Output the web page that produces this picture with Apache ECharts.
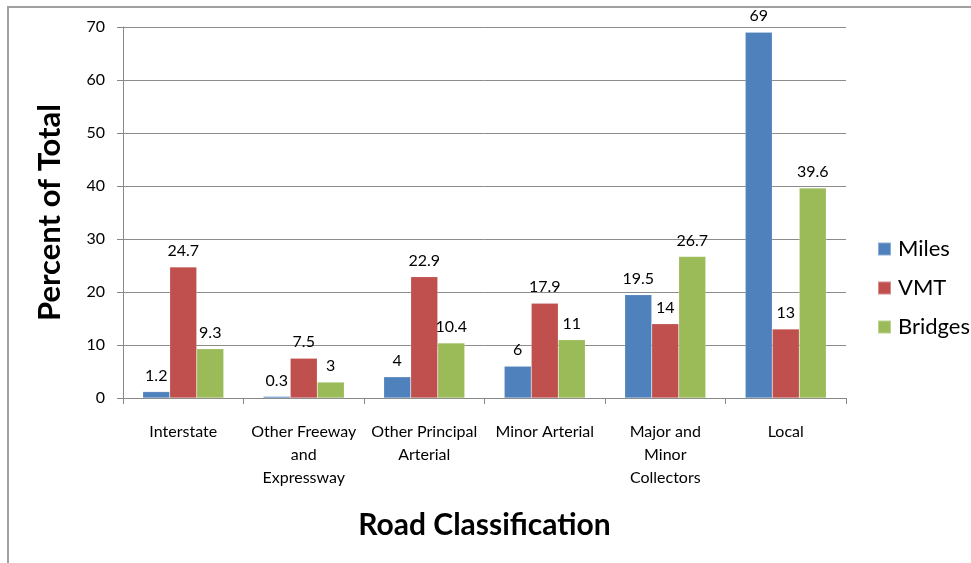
<!DOCTYPE html>
<html>
<head>
<meta charset="utf-8">
<script src="https://cdn.jsdelivr.net/npm/echarts@6/dist/echarts.min.js"></script>
<style>
  html, body { margin: 0; padding: 0; background: #fff; }
  #chart { width: 971px; height: 563px; }
</style>
</head>
<body>
<div id="chart"></div>
<script>
// Share of the road network by functional class
const categories = [
  'Interstate',
  'Other Freeway\nand\nExpressway',
  'Other Principal\nArterial',
  'Minor Arterial',
  'Major and\nMinor\nCollectors',
  'Local'
];
const miles = [1.2, 0.3, 4, 6, 19.5, 69];
const vmt = [24.7, 7.5, 22.9, 17.9, 14, 13];
const bridges = [9.3, 3, 10.4, 11, 26.7, 39.6];
const seriesNames = ['Miles', 'VMT', 'Bridges'];
const seriesColors = ['#4F81BD', '#C0504D', '#9BBB59'];

const FONT = 'Lato, "Open Sans", sans-serif';

const chart = echarts.init(document.getElementById('chart'), null, { renderer: 'canvas' });

function barSeries(name, data, color) {
  return {
    name: name,
    type: 'bar',
    data: data,
    barWidth: 27,
    barGap: '0%',
    itemStyle: { color: color, borderColor: 'rgba(255,255,255,0.35)', borderWidth: 0.5 },
    label: {
      show: true,
      position: 'top',
      distance: 8,
      color: '#000',
      fontFamily: FONT,
      fontSize: 16
    },
    emphasis: { disabled: true },
    animation: false
  };
}

chart.setOption({
  animation: false,
  backgroundColor: '#fff',
  textStyle: { fontFamily: FONT },
  grid: { left: 123, right: 125, top: 27, bottom: 165, containLabel: false },
  legend: {
    orient: 'vertical',
    left: 872,
    top: 233,
    itemWidth: 13,
    itemHeight: 13,
    itemGap: 17,
    icon: 'rect',
    data: seriesNames,
    textStyle: { fontFamily: FONT, fontSize: 22, color: '#000', padding: [0, 0, 0, 2] }
  },
  xAxis: {
    type: 'category',
    data: categories,
    name: 'Road Classification',
    nameLocation: 'middle',
    nameGap: 112,
    nameTextStyle: { fontFamily: FONT, fontSize: 30, fontWeight: 'bold', color: '#000' },
    axisLine: { lineStyle: { color: '#888', width: 1 } },
    axisTick: { show: true, length: 6, lineStyle: { color: '#888' } },
    axisLabel: {
      interval: 0,
      color: '#000',
      fontFamily: FONT,
      fontSize: 16,
      lineHeight: 23,
      margin: 22
    }
  },
  yAxis: {
    type: 'value',
    min: 0,
    max: 70,
    interval: 10,
    name: 'Percent of Total',
    nameLocation: 'middle',
    nameGap: 58,
    nameTextStyle: { fontFamily: FONT, fontSize: 31, fontWeight: 'bold', color: '#000' },
    axisLine: { show: true, lineStyle: { color: '#888', width: 1 } },
    axisTick: { show: true, length: 6, lineStyle: { color: '#888' } },
    axisLabel: { color: '#000', fontFamily: FONT, fontSize: 16, margin: 18 },
    splitLine: { show: true, lineStyle: { color: '#8c8c8c', width: 1 } }
  },
  graphic: [
    {
      type: 'rect',
      shape: { x: 8, y: 7, width: 1000, height: 600 },
      style: { fill: 'none', stroke: '#a0a0a0', lineWidth: 2 },
      silent: true,
      z: -1
    }
  ],
  series: [
    barSeries(seriesNames[0], miles, seriesColors[0]),
    barSeries(seriesNames[1], vmt, seriesColors[1]),
    barSeries(seriesNames[2], bridges, seriesColors[2])
  ]
});
</script>
</body>
</html>
